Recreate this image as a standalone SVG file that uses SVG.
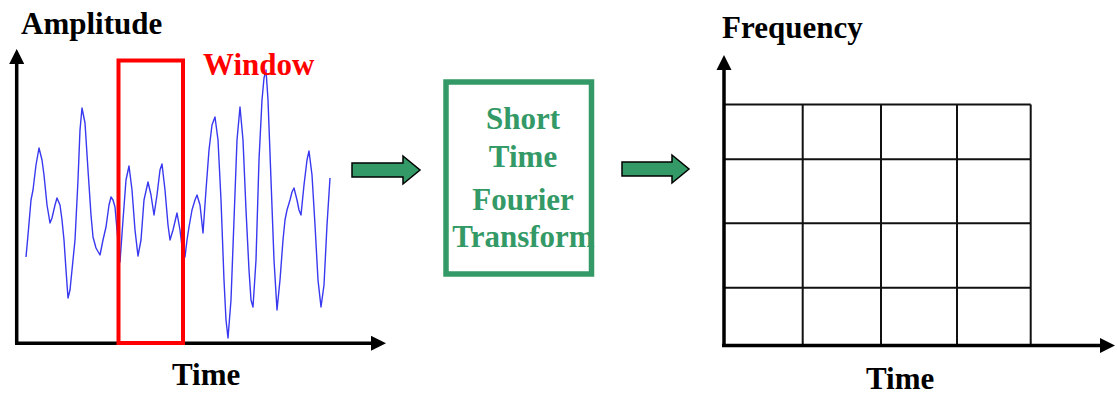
<svg xmlns="http://www.w3.org/2000/svg" width="1117" height="394" viewBox="0 0 1117 394">
<style>
.lbl{font-family:"Liberation Serif","Times New Roman",serif;font-weight:bold;font-size:31px;fill:#000}
.box-lbl{font-family:"Liberation Serif","Times New Roman",serif;font-weight:bold;font-size:31px;fill:#339966;text-anchor:middle}
.axis{stroke:#000;stroke-width:3.5;fill:none}
.grid{stroke:#111;stroke-width:2;fill:none}
.barrow{fill:#339966;stroke:#000;stroke-width:1.5;stroke-linejoin:miter}
</style>
<defs>
<marker id="ah" markerWidth="4.3" markerHeight="4.3" refX="0" refY="2.15" orient="auto" markerUnits="strokeWidth">
<path d="M0,0 L4.3,2.15 L0,4.3 Z" fill="#000"/>
</marker>
</defs>
<rect width="1117" height="394" fill="#fff"/>

<g id="amplitude-plot">
<path class="axis" d="M16.7,343.3 L16.7,64" marker-end="url(#ah)"/>
<path class="axis" d="M15,343.3 L371,343.3" marker-end="url(#ah)"/>
<polyline fill="none" stroke="#3838f0" stroke-width="1.4" stroke-linejoin="round" points="26,257 28,235 31,200 33,190 36,165 39,148 42,160 44,175 47,205 50,223 52,218 55,205 57,198 60,205 62,220 64,240 66,270 68,298 70,290 72,270 75,240 78,180 80,130 82,108 85,123 88,170 91,215 93,237 96,248 100,255 103,240 106,227 109,205 111,197 113,200 115,207 117,230 120,262 123,220 126,180 129,166 132,190 135,230 138,256 141,240 144,200 148,182 151,195 154,215 157,195 160,170 162,164 165,190 168,225 170,240 173,230 177,213 180,230 183,255 185,257 187,240 189,227 192,210 195,200 197,195 200,205 203,233 206,190 209,150 212,125 215,117 218,140 221,200 224,280 226,320 228,338 231,300 234,220 237,140 240,107 243,140 246,210 249,270 251,300 253,307 256,260 259,160 262,100 264,78 266,70 268,100 271,180 274,260 277,310 280,280 283,240 285,220 287,210 290,200 292,192 294,188 297,200 299,210 301,215 304,185 307,160 309,151 312,175 315,225 318,280 321,307 324,285 327,225 330,178"/>
<rect x="118.5" y="60.5" width="64.5" height="282.5" fill="none" stroke="#ff0000" stroke-width="4"/>
<text class="lbl" x="21" y="34">Amplitude</text>
<text class="lbl" x="203" y="75" style="fill:#ff0000">Window</text>
<text class="lbl" x="172" y="385">Time</text>
</g>

<g id="stft-box">
<rect x="446" y="82" width="145.5" height="192" fill="#fff" stroke="#339966" stroke-width="5.5"/>
<text class="box-lbl" x="523" y="129">Short</text>
<text class="box-lbl" x="523" y="167">Time</text>
<text class="box-lbl" x="523" y="210">Fourier</text>
<text class="box-lbl" x="523.5" y="247">Transform</text>
</g>

<g id="frequency-plot">
<g class="grid">
<path d="M724,104.5 H1030.7 M724,159.2 H1030.7 M724,223.3 H1030.7 M724,287.7 H1030.7"/>
<path d="M802.7,104.5 V345.5 M881,104.5 V345.5 M957,104.5 V345.5 M1030.7,104.5 V345.5"/>
</g>
<path class="axis" d="M724,347 L724,70" marker-end="url(#ah)"/>
<path class="axis" d="M722,345.5 L1100,345.5" marker-end="url(#ah)"/>
<text class="lbl" x="722" y="38">Frequency</text>
<text class="lbl" x="866" y="389">Time</text>
</g>

<g id="connectors">
<path class="barrow" d="M352,163 L403,163 L403,156 L420,170 L403,184 L403,177 L352,177 Z"/>
<path class="barrow" d="M622,162 L672,162 L672,155 L689,169 L672,183 L672,176 L622,176 Z"/>
</g>
</svg>
